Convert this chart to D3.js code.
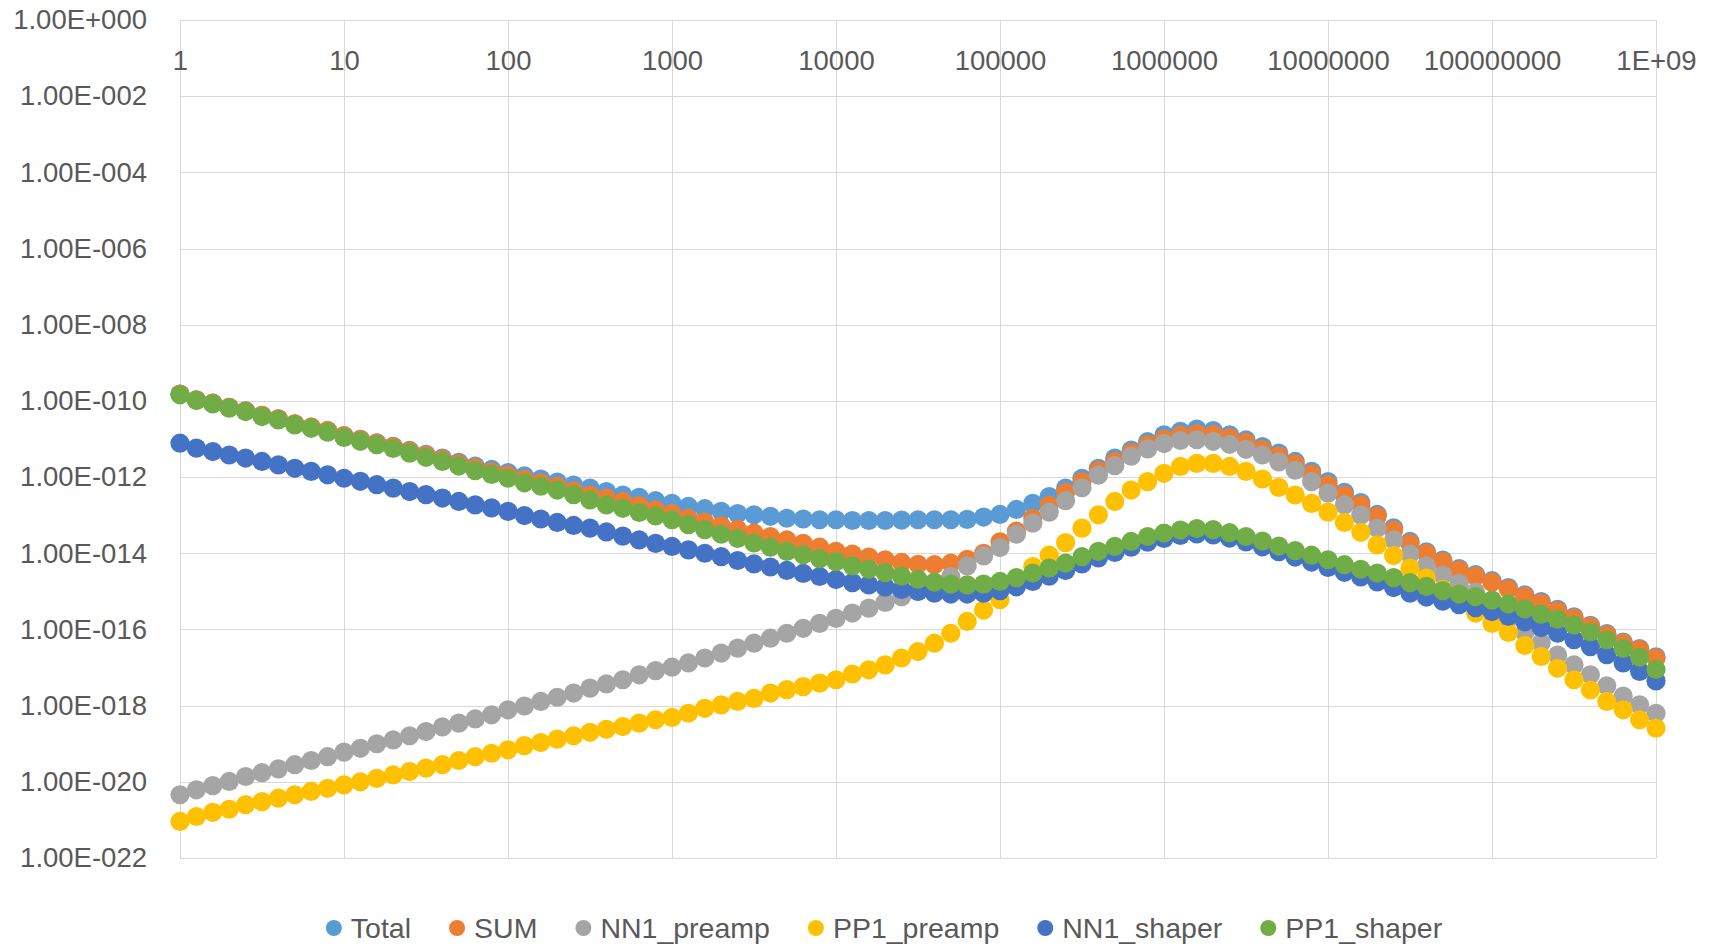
<!DOCTYPE html>
<html>
<head>
<meta charset="utf-8">
<script src="https://cdn.jsdelivr.net/npm/d3@7"></script>
<style>
  body { margin: 0; background: #fff; }
  svg { display: block; font-family: "Liberation Sans", Arial, sans-serif; }
  .grid line { stroke: #d9d9d9; stroke-width: 1; shape-rendering: crispEdges; }
  .grid path { display: none; }
  .lbl path, .lbl line { display: none; }
  .lbl text { fill: #595959; font-size: 27.5px; }
  .legend text { fill: #595959; font-size: 28.5px; }
</style>
</head>
<body>
<svg id="chart" width="1711" height="945"></svg>
<script>
// ---------------------------------------------------------------------------
//  log-log noise plot, 10 points per decade, values stored as log10 exponents
// ---------------------------------------------------------------------------
const xExp = [
  0, 0.1, 0.2, 0.3, 0.4, 0.5, 0.6, 0.7, 0.8, 0.9,
  1, 1.1, 1.2, 1.3, 1.4, 1.5, 1.6, 1.7, 1.8, 1.9,
  2, 2.1, 2.2, 2.3, 2.4, 2.5, 2.6, 2.7, 2.8, 2.9,
  3, 3.1, 3.2, 3.3, 3.4, 3.5, 3.6, 3.7, 3.8, 3.9,
  4, 4.1, 4.2, 4.3, 4.4, 4.5, 4.6, 4.7, 4.8, 4.9,
  5, 5.1, 5.2, 5.3, 5.4, 5.5, 5.6, 5.7, 5.8, 5.9,
  6, 6.1, 6.2, 6.3, 6.4, 6.5, 6.6, 6.7, 6.8, 6.9,
  7, 7.1, 7.2, 7.3, 7.4, 7.5, 7.6, 7.7, 7.8, 7.9,
  8, 8.1, 8.2, 8.3, 8.4, 8.5, 8.6, 8.7, 8.8, 8.9,
  9
];

const total = [
  -9.82, -9.97, -10.06, -10.17, -10.26, -10.38, -10.47, -10.6, -10.69, -10.78,
  -10.91, -11.01, -11.1, -11.19, -11.3, -11.4, -11.5, -11.61, -11.71, -11.8,
  -11.88, -11.97, -12.05, -12.13, -12.21, -12.29, -12.38, -12.47, -12.53, -12.62,
  -12.69, -12.77, -12.83, -12.9, -12.96, -12.99, -13.03, -13.08, -13.1, -13.12,
  -13.12, -13.14, -13.14, -13.14, -13.13, -13.12, -13.12, -13.12, -13.11, -13.05,
  -12.98, -12.85, -12.69, -12.51, -12.29, -12.03, -11.77, -11.5, -11.29, -11.07,
  -10.89, -10.8, -10.74, -10.78, -10.89, -11.02, -11.2, -11.37, -11.59, -11.85,
  -12.12, -12.4, -12.67, -12.98, -13.33, -13.69, -13.96, -14.18, -14.4, -14.56,
  -14.72, -14.9, -15.09, -15.27, -15.47, -15.67, -15.89, -16.11, -16.33, -16.5,
  -16.72
];

const sum = [
  -9.82, -9.97, -10.06, -10.17, -10.26, -10.38, -10.47, -10.6, -10.69, -10.78,
  -10.92, -11.02, -11.11, -11.2, -11.32, -11.43, -11.53, -11.65, -11.76, -11.86,
  -11.95, -12.06, -12.15, -12.24, -12.36, -12.47, -12.55, -12.64, -12.75, -12.86,
  -12.96, -13.08, -13.18, -13.28, -13.37, -13.47, -13.56, -13.65, -13.74, -13.84,
  -13.95, -14.02, -14.1, -14.17, -14.24, -14.29, -14.3, -14.26, -14.16, -14.0,
  -13.7, -13.42, -13.08, -12.74, -12.4, -12.12, -11.83, -11.59, -11.36, -11.15,
  -11.0, -10.9, -10.86, -10.88, -10.96, -11.09, -11.27, -11.44, -11.65, -11.92,
  -12.2, -12.47, -12.73, -13.03, -13.39, -13.74, -14.0, -14.22, -14.44, -14.6,
  -14.76, -14.94, -15.13, -15.31, -15.51, -15.7, -15.92, -16.14, -16.36, -16.53,
  -16.75
];

const nn1Preamp = [
  -20.34, -20.21, -20.1, -19.99, -19.86, -19.76, -19.66, -19.55, -19.44, -19.34,
  -19.22, -19.12, -19.0, -18.9, -18.79, -18.68, -18.56, -18.46, -18.35, -18.24,
  -18.11, -18.01, -17.89, -17.78, -17.67, -17.54, -17.43, -17.32, -17.19, -17.08,
  -16.99, -16.88, -16.75, -16.62, -16.49, -16.36, -16.23, -16.1, -15.97, -15.84,
  -15.71, -15.57, -15.44, -15.29, -15.14, -15.0, -14.83, -14.61, -14.33, -14.07,
  -13.85, -13.5, -13.21, -12.92, -12.62, -12.28, -11.95, -11.7, -11.45, -11.26,
  -11.12, -11.04, -11.02, -11.06, -11.14, -11.27, -11.42, -11.6, -11.82, -12.12,
  -12.42, -12.73, -13.0, -13.34, -13.65, -14.02, -14.33, -14.57, -14.79, -15.02,
  -15.35, -15.72, -16.08, -16.35, -16.67, -16.93, -17.19, -17.48, -17.75, -17.98,
  -18.2
];

const pp1Preamp = [
  -21.04, -20.91, -20.8, -20.72, -20.6, -20.52, -20.43, -20.34, -20.25, -20.17,
  -20.08, -20.0, -19.91, -19.82, -19.73, -19.64, -19.55, -19.44, -19.34, -19.25,
  -19.16, -19.05, -18.97, -18.88, -18.79, -18.7, -18.62, -18.55, -18.46, -18.37,
  -18.31, -18.2, -18.07, -17.98, -17.89, -17.81, -17.67, -17.58, -17.5, -17.41,
  -17.32, -17.17, -17.06, -16.93, -16.75, -16.58, -16.36, -16.1, -15.79, -15.49,
  -15.22, -14.75, -14.35, -14.05, -13.72, -13.34, -12.99, -12.64, -12.34, -12.12,
  -11.9, -11.72, -11.64, -11.64, -11.72, -11.85, -12.05, -12.27, -12.47, -12.69,
  -12.92, -13.19, -13.45, -13.78, -14.06, -14.39, -14.65, -14.95, -15.27, -15.57,
  -15.84, -16.08, -16.42, -16.71, -17.02, -17.32, -17.59, -17.89, -18.11, -18.37,
  -18.59
];

const nn1Shaper = [
  -11.11, -11.24, -11.33, -11.42, -11.5, -11.59, -11.68, -11.77, -11.85, -11.94,
  -12.03, -12.11, -12.2, -12.29, -12.38, -12.46, -12.55, -12.64, -12.73, -12.81,
  -12.9, -13.01, -13.1, -13.19, -13.27, -13.34, -13.44, -13.55, -13.65, -13.74,
  -13.82, -13.91, -14.0, -14.09, -14.19, -14.28, -14.36, -14.45, -14.53, -14.61,
  -14.69, -14.77, -14.83, -14.89, -14.95, -15.0, -15.05, -15.07, -15.07, -15.05,
  -14.98, -14.88, -14.74, -14.6, -14.45, -14.28, -14.12, -13.98, -13.84, -13.71,
  -13.61, -13.53, -13.49, -13.52, -13.6, -13.7, -13.83, -13.96, -14.1, -14.23,
  -14.37, -14.5, -14.62, -14.75, -14.9, -15.05, -15.15, -15.26, -15.35, -15.43,
  -15.53, -15.65, -15.8, -15.95, -16.1, -16.27, -16.45, -16.66, -16.88, -17.1,
  -17.35
];

const pp1Shaper = [
  -9.84, -9.99, -10.08, -10.19, -10.28, -10.41, -10.5, -10.63, -10.72, -10.82,
  -10.96, -11.06, -11.15, -11.25, -11.37, -11.48, -11.59, -11.71, -11.83, -11.93,
  -12.03, -12.15, -12.24, -12.34, -12.46, -12.6, -12.73, -12.82, -12.93, -13.02,
  -13.12, -13.25, -13.38, -13.5, -13.61, -13.73, -13.84, -13.95, -14.04, -14.14,
  -14.22, -14.33, -14.42, -14.51, -14.6, -14.68, -14.76, -14.81, -14.83, -14.81,
  -14.74, -14.64, -14.52, -14.39, -14.26, -14.09, -13.95, -13.82, -13.69, -13.56,
  -13.47, -13.39, -13.35, -13.38, -13.46, -13.56, -13.68, -13.81, -13.93, -14.05,
  -14.17, -14.3, -14.42, -14.52, -14.64, -14.77, -14.87, -14.98, -15.07, -15.14,
  -15.23, -15.33, -15.46, -15.6, -15.73, -15.88, -16.06, -16.27, -16.5, -16.73,
  -17.05
];

const seriesNames  = ['Total', 'SUM', 'NN1_preamp', 'PP1_preamp', 'NN1_shaper', 'PP1_shaper'];
const seriesColors = ['#5B9BD5', '#ED7D31', '#A5A5A5', '#FFC000', '#4472C4', '#70AD47'];
const seriesExp    = [total, sum, nn1Preamp, pp1Preamp, nn1Shaper, pp1Shaper];

const xTicks  = [1, 10, 100, 1000, 1e4, 1e5, 1e6, 1e7, 1e8, 1e9];
const xLabels = ['1', '10', '100', '1000', '10000', '100000', '1000000', '10000000', '100000000', '1E+09'];
const yTicks  = [1, 1e-2, 1e-4, 1e-6, 1e-8, 1e-10, 1e-12, 1e-14, 1e-16, 1e-18, 1e-20, 1e-22];
const yLabels = ['1.00E+000', '1.00E-002', '1.00E-004', '1.00E-006', '1.00E-008', '1.00E-010',
                 '1.00E-012', '1.00E-014', '1.00E-016', '1.00E-018', '1.00E-020', '1.00E-022'];

// ---------------------------------------------------------------------------
const svg = d3.select('#chart');
const P = { left: 180, right: 1656, top: 20, bottom: 858 };
const x = d3.scaleLog().domain([1, 1e9]).range([P.left, P.right]);
const y = d3.scaleLog().domain([1, 1e-22]).range([P.top, P.bottom]);

// gridlines
svg.append('g').attr('class', 'grid').attr('transform', `translate(${P.left},0)`)
  .call(d3.axisLeft(y).tickValues(yTicks).tickSize(-(P.right - P.left)).tickFormat(''));
svg.append('g').attr('class', 'grid').attr('transform', `translate(0,${P.top})`)
  .call(d3.axisBottom(x).tickValues(xTicks).tickSize(P.bottom - P.top).tickFormat(''));

// y labels
svg.append('g').attr('class', 'lbl').attr('transform', `translate(${P.left},0)`)
  .call(d3.axisLeft(y).tickValues(yTicks).tickSize(0).tickPadding(33)
    .tickFormat((d, i) => yLabels[i]));

// x labels (just under the top edge)
svg.append('g').attr('class', 'lbl').attr('transform', `translate(0,${P.top})`)
  .call(d3.axisBottom(x).tickValues(xTicks).tickSize(0).tickFormat((d, i) => xLabels[i]))
  .selectAll('text').attr('y', 40).attr('dy', '0.35em');

// markers
seriesNames.forEach((name, s) => {
  const pts = xExp.map((e, i) => ({ x: Math.pow(10, e), y: Math.pow(10, seriesExp[s][i]) }));
  svg.append('g').selectAll('circle').data(pts).join('circle')
    .attr('cx', d => x(d.x)).attr('cy', d => y(d.y)).attr('r', 9.6)
    .attr('fill', seriesColors[s]);
});

// legend, centred under the plot
const lg = svg.append('g').attr('class', 'legend');
let cx = 0;
seriesNames.forEach((name, s) => {
  const g = lg.append('g');
  g.append('circle').attr('cx', 0).attr('cy', 0).attr('r', 8).attr('fill', seriesColors[s]);
  const t = g.append('text').attr('x', 17).attr('dy', '0.35em').text(name);
  const w = 17 + t.node().getComputedTextLength();
  g.attr('transform', `translate(${cx},928)`);
  cx += w + 46;
});
const lgW = cx - 46 + 8;
lg.attr('transform', `translate(${884 - lgW / 2 + 8},0)`);
</script>
</body>
</html>
